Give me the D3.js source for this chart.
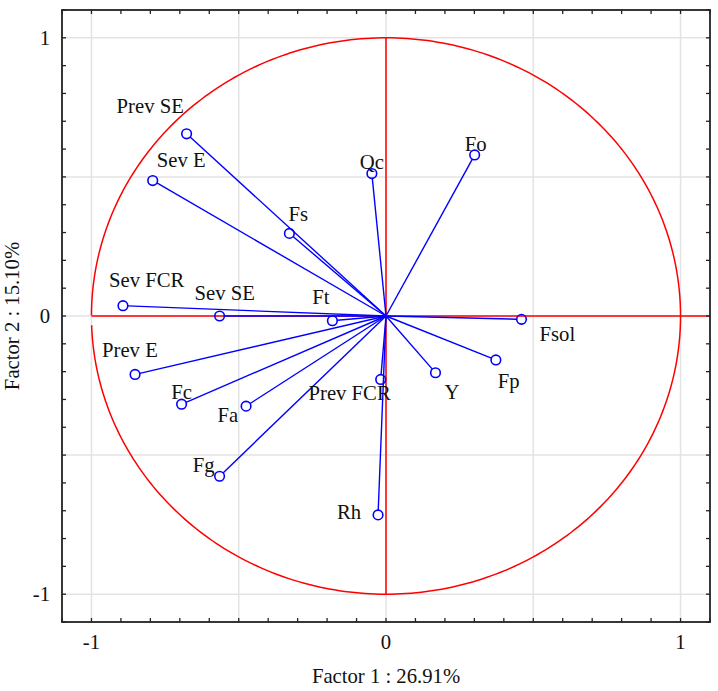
<!DOCTYPE html>
<html>
<head>
<meta charset="utf-8">
<script src="https://cdn.jsdelivr.net/npm/d3@7"></script>
<style>
  body { margin: 0; background: #fff; }
  svg { display: block; font-family: "Liberation Serif", "Times New Roman", serif; }
</style>
</head>
<body>
<svg id="chart" width="718" height="691"></svg>
<script>
// variable names and their loadings on factor 1 / factor 2
const variables = ["Prev SE", "Sev E", "Qc", "Fo", "Fs", "Sev FCR", "Sev SE", "Ft",
                   "Prev E", "Fc", "Fa", "Fg", "Prev FCR", "Y", "Fsol", "Fp", "Rh"];
const factor1 = [-0.677, -0.792, -0.048, 0.301, -0.328, -0.893, -0.565, -0.182,
                 -0.852, -0.694, -0.475, -0.565, -0.018, 0.168, 0.460, 0.373, -0.027];
const factor2 = [0.655, 0.487, 0.512, 0.579, 0.297, 0.037, 0.000, -0.017,
                 -0.210, -0.317, -0.324, -0.576, -0.228, -0.204, -0.012, -0.158, -0.715];
const tickLabels = [-1, 0, 1];
const gridValues = [-1, -0.5, 0, 0.5, 1];
const xTitle = "Factor 1 : 26.91%";
const yTitle = "Factor 2 : 15.10%";

// where each label sits relative to its point (layout only)
const labelPlace = {
  "Prev SE": ["start", -70, -21], "Sev E": ["start", 4, -14], "Qc": ["middle", 0, -5],
  "Fo": ["middle", 1, -4], "Fs": ["start", -1, -12], "Sev FCR": ["start", -14, -19],
  "Sev SE": ["start", -25, -16], "Ft": ["end", -3, -17], "Prev E": ["start", -33, -17],
  "Fc": ["middle", 0, -5], "Fa": ["end", -8, 16], "Fg": ["end", -5, -4],
  "Prev FCR": ["end", 10, 21], "Y": ["start", 9, 26], "Fsol": ["start", 18, 22],
  "Fp": ["start", 2, 28], "Rh": ["end", -17, 4]
};

const svg = d3.select("#chart");
const mLeft = 62, mRight = 710, mTop = 10, mBottom = 622;
const fs = 20.7;

const x = d3.scaleLinear().domain([-1.1, 1.1]).range([mLeft, mRight]);
const y = d3.scaleLinear().domain([-1.1, 1.1]).range([mBottom, mTop]);

const data = variables.map((name, i) => ({ name, f1: factor1[i], f2: factor2[i] }));

// grid
svg.append("g").selectAll("line").data(gridValues).join("line")
  .attr("x1", d => x(d)).attr("x2", d => x(d))
  .attr("y1", mTop).attr("y2", mBottom)
  .attr("stroke", "#e3e3e3").attr("stroke-width", 1.5);
svg.append("g").selectAll("line").data(gridValues).join("line")
  .attr("y1", d => y(d)).attr("y2", d => y(d))
  .attr("x1", mLeft).attr("x2", mRight)
  .attr("stroke", "#e3e3e3").attr("stroke-width", 1.5);

// unit circle (small gap just under the left axis, as in the original)
const gap = 0.033;
const angles = d3.range(Math.PI + gap, 3 * Math.PI + 0.0001, Math.PI / 180);
const circleLine = d3.line().x(t => x(Math.cos(t))).y(t => y(Math.sin(t)));
svg.append("path").datum(angles)
  .attr("d", circleLine)
  .attr("fill", "none").attr("stroke", "#ff0000").attr("stroke-width", 1.5);

// red axes through origin
svg.append("line")
  .attr("x1", x(-1)).attr("x2", x(1.1)).attr("y1", y(0)).attr("y2", y(0))
  .attr("stroke", "#ff0000").attr("stroke-width", 1.5);
svg.append("line")
  .attr("x1", x(0)).attr("x2", x(0)).attr("y1", y(1)).attr("y2", y(-1))
  .attr("stroke", "#ff0000").attr("stroke-width", 1.5);

// vectors
const r = 4.8;
svg.append("g").selectAll("line").data(data).join("line")
  .attr("x1", x(0)).attr("y1", y(0))
  .attr("x2", d => {
    const dx = x(d.f1) - x(0), dy = y(d.f2) - y(0), len = Math.hypot(dx, dy);
    return x(d.f1) - dx / len * r;
  })
  .attr("y2", d => {
    const dx = x(d.f1) - x(0), dy = y(d.f2) - y(0), len = Math.hypot(dx, dy);
    return y(d.f2) - dy / len * r;
  })
  .attr("stroke", "#0000ff").attr("stroke-width", 1.4);

svg.append("g").selectAll("circle").data(data).join("circle")
  .attr("cx", d => x(d.f1)).attr("cy", d => y(d.f2)).attr("r", r)
  .attr("fill", "none").attr("stroke", "#0000ff").attr("stroke-width", 1.6);

svg.append("g").selectAll("text").data(data).join("text")
  .attr("x", d => x(d.f1) + labelPlace[d.name][1])
  .attr("y", d => y(d.f2) + labelPlace[d.name][2])
  .attr("text-anchor", d => labelPlace[d.name][0])
  .attr("font-size", fs).attr("fill", "#111")
  .text(d => d.name);

// axes: inward ticks every 0.1 on all four sides
const minor = d3.range(-11, 12).map(v => v / 10);
const tickLen = 4;
const axisG = svg.append("g").attr("stroke", "#222").attr("stroke-width", 1.3);
axisG.append("g").selectAll("line").data(minor).join("line")
  .attr("x1", d => x(d)).attr("x2", d => x(d))
  .attr("y1", mBottom).attr("y2", mBottom - tickLen);
axisG.append("g").selectAll("line").data(minor).join("line")
  .attr("x1", d => x(d)).attr("x2", d => x(d))
  .attr("y1", mTop).attr("y2", mTop + tickLen);
axisG.append("g").selectAll("line").data(minor).join("line")
  .attr("y1", d => y(d)).attr("y2", d => y(d))
  .attr("x1", mLeft).attr("x2", mLeft + tickLen);
axisG.append("g").selectAll("line").data(minor).join("line")
  .attr("y1", d => y(d)).attr("y2", d => y(d))
  .attr("x1", mRight).attr("x2", mRight - tickLen);

svg.append("rect")
  .attr("x", mLeft).attr("y", mTop)
  .attr("width", mRight - mLeft).attr("height", mBottom - mTop)
  .attr("fill", "none").attr("stroke", "#222").attr("stroke-width", 1.8);

// tick labels
svg.append("g").selectAll("text").data(tickLabels).join("text")
  .attr("x", d => x(d)).attr("y", 649)
  .attr("text-anchor", "middle").attr("font-size", fs).attr("fill", "#111")
  .text(d => d);
svg.append("g").selectAll("text").data(tickLabels).join("text")
  .attr("x", 50).attr("y", d => y(d) + 7)
  .attr("text-anchor", "end").attr("font-size", fs).attr("fill", "#111")
  .text(d => d);

// titles
svg.append("text")
  .attr("x", x(0)).attr("y", 683)
  .attr("text-anchor", "middle").attr("font-size", fs).attr("fill", "#111")
  .text(xTitle);
svg.append("text")
  .attr("transform", `translate(19,${y(0)}) rotate(-90)`)
  .attr("text-anchor", "middle").attr("font-size", fs).attr("fill", "#111")
  .text(yTitle);
</script>
</body>
</html>
